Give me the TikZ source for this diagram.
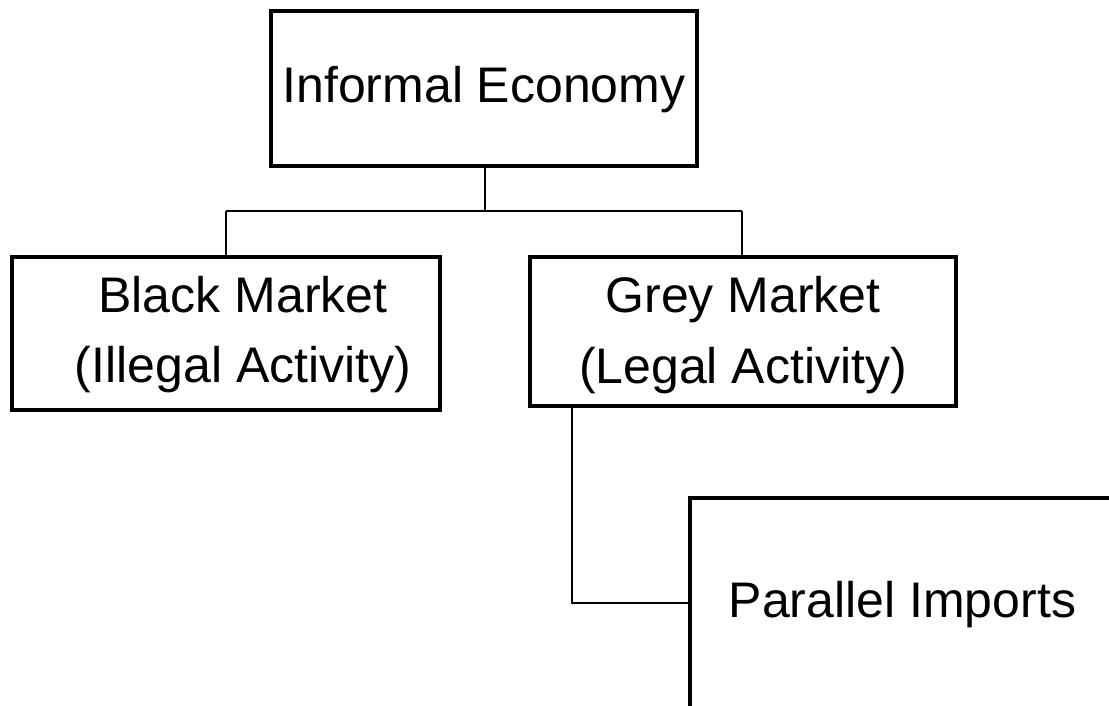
\documentclass[tikz,border=0pt]{standalone}
\usepackage{fontspec}
\setmainfont{Liberation Sans}
\begin{document}
\begin{tikzpicture}[x=1pt,y=-1pt,
  boxnode/.style={draw=black,line width=4pt,rectangle,inner sep=0pt,fill=none},
  lbl/.style={anchor=base,inner sep=0pt,font=\fontsize{50}{60}\selectfont},
  conn/.style={draw=black,line width=2pt}]
\useasboundingbox (0,0) rectangle (1109,706);
\clip (0,0) rectangle (1109,706);
% boxes
\node[boxnode,minimum width=426.5pt,minimum height=155pt] (inf) at (483.75,88.5) {};
\node[boxnode,minimum width=427.5pt,minimum height=153pt] (blk) at (225.75,333) {};
\node[boxnode,minimum width=425.5pt,minimum height=149pt] (gry) at (742.75,331.5) {};
\node[boxnode,minimum width=600pt,minimum height=400pt] (par) at (989.5,697.5) {};
% texts
\node[lbl] (tinf) at (484,103) {Informal Economy};
\node[lbl] (tblk1) at (243,312) {Black Market};
\node[lbl] (tblk2) at (243,382) {(Illegal Activity)};
\node[lbl] (tgry1) at (743,312) {Grey Market};
\node[lbl] (tgry2) at (743,383) {(Legal Activity)};
\node[lbl] (tpar) at (902.5,617) {Parallel Imports};
% connectors
\coordinate (j) at (485,211);
\draw[conn] (inf.south -| j) -- (j);
\draw[conn] (j -| 226,0) -- (j -| 742,0);
\draw[conn] (226,211) -- (blk.north -| 226,0);
\draw[conn] (742,211) -- (gry.north -| 742,0);
\draw[conn] (gry.south -| 572,0) |- (par.west |- 0,603);
\end{tikzpicture}
\end{document}
